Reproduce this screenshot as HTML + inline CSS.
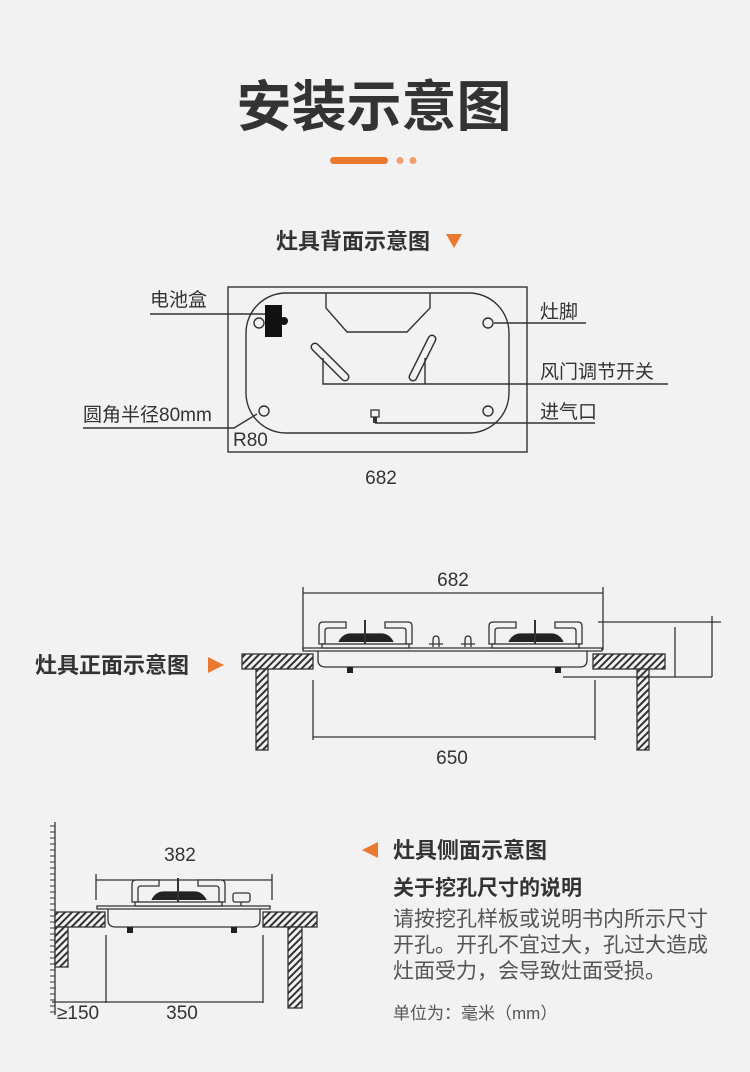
<!DOCTYPE html>
<html><head><meta charset="utf-8"><style>
html,body{margin:0;padding:0;background:#f2f2f2;}
svg{display:block;}
text{font-family:"Liberation Sans","Noto Sans CJK SC",sans-serif;fill:#333;}
</style></head><body>
<svg width="750" height="1072" viewBox="0 0 750 1072" xmlns="http://www.w3.org/2000/svg">
<defs>
<pattern id="h" width="5" height="5" patternUnits="userSpaceOnUse" patternTransform="rotate(45)">
<rect width="5" height="5" fill="#f2f2f2"/><rect width="2" height="5" fill="#333"/>
</pattern>
<g id="burner" fill="none" stroke="#333" stroke-width="1.3">
<path d="M27,0 H4 Q0,0 0,4 V22 H6 V9 Q6,6 9,6 H27 Z" fill="#f2f2f2"/>
<path d="M66,0 H89 Q93,0 93,4 V22 H87 V9 Q87,6 84,6 H66 Z" fill="#f2f2f2"/>
<path d="M20,20 Q24,12 32,12 H62 Q70,12 74,20" fill="#222" stroke="#222"/>
<line x1="46" y1="-2" x2="46" y2="24" stroke-width="2"/>
<rect x="3" y="22" width="87" height="4" fill="#f2f2f2"/>
</g>
</defs>
<rect width="750" height="1072" fill="#f2f2f2"/>

<!-- title -->
<text x="374" y="126" text-anchor="middle" font-size="55" font-weight="bold" fill="#333">安装示意图</text>
<rect x="330" y="157" width="58" height="7" rx="3.5" fill="#e8792f"/>
<circle cx="400" cy="160.5" r="3.5" fill="#f0a070"/>
<circle cx="413" cy="160.5" r="3.5" fill="#f0a070"/>

<!-- section 1 -->
<text x="353" y="249" text-anchor="middle" font-size="22" font-weight="bold">灶具背面示意图</text>
<polygon points="446,234 462,234 454,248" fill="#e8792f"/>

<g fill="none" stroke="#333" stroke-width="1.4">
<rect x="228" y="287" width="299" height="165"/>
<rect x="246" y="293" width="263" height="140" rx="40"/>
<path d="M326,293 V308 L347,332 H407 L430,308 V293"/>
<circle cx="259" cy="323" r="5"/>
<circle cx="488" cy="323" r="5"/>
<circle cx="264" cy="411" r="5"/>
<circle cx="488" cy="411" r="5"/>
<line x1="315" y1="347" x2="345" y2="377" stroke-width="9" stroke-linecap="round"/>
<line x1="315" y1="347" x2="345" y2="377" stroke-width="6" stroke-linecap="round" stroke="#f2f2f2"/>
<line x1="432" y1="339" x2="413" y2="377" stroke-width="9" stroke-linecap="round"/>
<line x1="432" y1="339" x2="413" y2="377" stroke-width="6" stroke-linecap="round" stroke="#f2f2f2"/>
<path d="M323,358 V384 H668 M425,358 V384"/>
<line x1="150" y1="314" x2="265" y2="314"/>
<line x1="494" y1="323" x2="586" y2="323"/>
<line x1="375" y1="423" x2="595" y2="423"/>
<path d="M83,428 H234 L257,414"/>
</g>
<rect x="265" y="305" width="17" height="32" fill="#111"/>
<circle cx="284" cy="321" r="4" fill="#111"/>
<rect x="371" y="410" width="8" height="7" fill="#f2f2f2" stroke="#333" stroke-width="1.3"/>
<rect x="373" y="417" width="4" height="6" fill="#333"/>
<text x="150" y="306" font-size="19">电池盒</text>
<text x="540" y="318" font-size="19">灶脚</text>
<text x="540" y="378" font-size="19">风门调节开关</text>
<text x="540" y="418" font-size="19">进气口</text>
<text x="83" y="421" font-size="19">圆角半径80mm</text>
<text x="233" y="446" font-size="19">R80</text>
<text x="381" y="484" text-anchor="middle" font-size="19">682</text>

<!-- section 2 -->
<text x="35" y="673" font-size="22" font-weight="bold">灶具正面示意图</text>
<polygon points="208,657 208,673 224,665" fill="#e8792f"/>
<text x="453" y="586" text-anchor="middle" font-size="19">682</text>
<g fill="none" stroke="#333" stroke-width="1.3">
<path d="M303,587 V650 M603,587 V650 M303,593 H603"/>
<rect x="242" y="654" width="71" height="15" fill="url(#h)"/>
<rect x="593" y="654" width="72" height="15" fill="url(#h)"/>
<rect x="256" y="669" width="12" height="81" fill="url(#h)"/>
<rect x="637" y="669" width="12" height="81" fill="url(#h)"/>
<path d="M303,648 H602 V651 H303 Z"/>
<path d="M318,651 V660 Q318,667 326,667 H580 Q587,667 587,660 V651"/>
<path d="M598,622 H721 M712,616 V677 M563,677 H712 M675,627 V677"/>
<path d="M313,680 V740 M595,680 V740 M313,737 H595"/>
<path d="M433,647 V640 Q433,636 436,636 Q439,636 439,640 V647 M429,644 H443"/>
<path d="M465,647 V640 Q465,636 468,636 Q471,636 471,640 V647 M461,644 H475"/>
</g>
<use href="#burner" x="319" y="622"/>
<use href="#burner" x="489" y="622"/>
<rect x="347" y="667" width="6" height="6" fill="#222"/>
<rect x="555" y="667" width="6" height="6" fill="#222"/>
<text x="452" y="764" text-anchor="middle" font-size="19">650</text>

<!-- section 3 -->
<g fill="none" stroke="#333" stroke-width="1.3">
<line x1="55" y1="822" x2="55" y2="1015"/>
<path d="M50,826 H55 M50,832 H55 M50,838 H55 M50,844 H55 M50,850 H55 M50,856 H55 M50,862 H55 M50,868 H55 M50,874 H55 M50,880 H55 M50,886 H55 M50,892 H55 M50,898 H55 M50,904 H55 M50,910 H55 M50,916 H55 M50,922 H55 M50,928 H55 M50,934 H55 M50,940 H55 M50,946 H55 M50,952 H55 M50,958 H55 M50,964 H55 M50,970 H55 M50,976 H55 M50,982 H55 M50,988 H55 M50,994 H55 M50,1000 H55 M50,1006 H55 M50,1012 H55" stroke-width="1"/>
<rect x="55" y="912" width="50" height="15" fill="url(#h)"/>
<rect x="55" y="927" width="13" height="40" fill="url(#h)"/>
<rect x="263" y="912" width="54" height="15" fill="url(#h)"/>
<rect x="288" y="927" width="14" height="81" fill="url(#h)"/>
<path d="M96,874 V900 M272,874 V900 M96,880 H272"/>
<path d="M97,906 H270 V909 H97 Z"/>
<path d="M108,909 V920 Q108,927 116,927 H252 Q260,927 260,920 V909"/>
<path d="M106,935 V1003 M263,935 V1003 M52,1002 H263"/>
<rect x="233" y="893" width="17" height="9" rx="2"/>
<line x1="241" y1="902" x2="241" y2="906"/>
</g>
<use href="#burner" x="132" y="880"/>
<rect x="127" y="927" width="6" height="6" fill="#222"/>
<rect x="231" y="927" width="6" height="6" fill="#222"/>
<text x="180" y="861" text-anchor="middle" font-size="19">382</text>
<text x="57" y="1019" font-size="19">≥150</text>
<text x="182" y="1019" text-anchor="middle" font-size="19">350</text>

<polygon points="378,842 378,858 362,850" fill="#e8792f"/>
<text x="393" y="858" font-size="22" font-weight="bold">灶具侧面示意图</text>
<text x="393" y="895" font-size="21" font-weight="bold">关于挖孔尺寸的说明</text>
<text x="393" y="926" font-size="21" style="fill:#555">请按挖孔样板或说明书内所示尺寸</text>
<text x="393" y="952" font-size="21" style="fill:#555">开孔。开孔不宜过大，孔过大造成</text>
<text x="393" y="978" font-size="21" style="fill:#555">灶面受力，会导致灶面受损。</text>
<text x="393" y="1019" font-size="17" style="fill:#555">单位为：毫米（mm）</text>
</svg>
</body></html>
